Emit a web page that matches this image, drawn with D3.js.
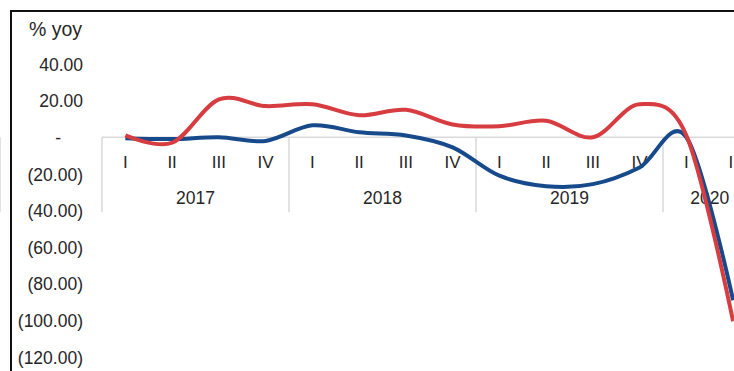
<!DOCTYPE html>
<html>
<head>
<meta charset="utf-8">
<script src="https://cdn.jsdelivr.net/npm/d3@7"></script>
<style>
  body { margin: 0; background: #fff; overflow: hidden; }
  svg { display: block; }
  text { font-family: "Liberation Sans", Arial, sans-serif; fill: #262626; }
</style>
</head>
<body>
<svg id="chart" width="734" height="371"></svg>
<script>
// quarters and years on the category axis
var quarters = ["I","II","III","IV","I","II","III","IV","I","II","III","IV","I","II"];
var years = [
    {label: "2017", n: 4},
    {label: "2018", n: 4},
    {label: "2019", n: 4},
    {label: "2020", n: 2}
];
var yTicks = [40, 20, 0, -20, -40, -60, -80, -100, -120];

// % yoy
var blueValues = [-0.5, -1, 0, -2, 6.5, 2.7, 1, -5.5, -21, -26.7, -25.6, -16.5, 0, -89];
var redValues  = [1, -3, 20.7, 17, 18, 12, 15, 7, 6, 9, 0, 18, 1, -100.5];

var svg = d3.select("#chart");

// outer frame (runs past the right and bottom edge)
svg.append("rect")
    .attr("x", 11).attr("y", 11)
    .attr("width", 900).attr("height", 500)
    .attr("fill", "none")
    .attr("stroke", "#111")
    .attr("stroke-width", 2);

var left = 102,
    step = 46.75;

var xScale = d3.scaleBand()
    .domain(d3.range(quarters.length))
    .range([left, left + step * quarters.length]);

var yScale = d3.scaleLinear()
    .domain([-120, 40])
    .range([357, 64]);

// y labels, no axis line
var fmt = d3.format(".2f");
var yAxis = d3.axisLeft(yScale)
    .tickValues(yTicks)
    .tickSize(0)
    .tickPadding(0)
    .tickFormat(function(d) {
        if (d == 0) return "-";
        return d < 0 ? "(" + fmt(-d) + ")" : fmt(d);
    });

var gy = svg.append("g")
    .attr("transform", "translate(83,0)")
    .call(yAxis);
gy.select(".domain").remove();
gy.selectAll("text")
    .attr("dy", "0.35em")
    .style("font-size", "17.5px")
    .style("font-family", "'Liberation Sans', Arial, sans-serif")
    .attr("fill", "#262626");
// the zero label sits a bit to the left
gy.selectAll(".tick").filter(function(d) { return d == 0; })
    .select("text").attr("x", -22);

svg.append("text")
    .attr("x", 29).attr("y", 36)
    .style("font-size", "19.5px")
    .text("% yoy");

// category axis along zero
var y0 = yScale(0);
svg.append("line")
    .attr("x1", left).attr("x2", 900)
    .attr("y1", y0).attr("y2", y0)
    .attr("stroke", "#d9d9d9")
    .attr("stroke-width", 1.5);

var start = 0;
years.forEach(function(yr) {
    var x0 = xScale(start);
    svg.append("line")
        .attr("x1", x0).attr("x2", x0)
        .attr("y1", y0).attr("y2", y0 + 75)
        .attr("stroke", "#d9d9d9")
        .attr("stroke-width", 1.5);
    svg.append("text")
        .attr("x", x0 + step * yr.n / 2)
        .attr("y", y0 + 67)
        .attr("text-anchor", "middle")
        .style("font-size", "17.5px")
        .text(yr.label);
    start += yr.n;
});
var xEnd = xScale(start);
svg.append("line")
    .attr("x1", xEnd).attr("x2", xEnd)
    .attr("y1", y0).attr("y2", y0 + 75)
    .attr("stroke", "#d9d9d9")
    .attr("stroke-width", 1.5);

svg.selectAll(".qlabel")
    .data(quarters)
    .enter()
    .append("text")
    .attr("class", "qlabel")
    .attr("x", function(d, i) { return xScale(i) + xScale.bandwidth() / 2; })
    .attr("y", y0 + 31)
    .attr("text-anchor", "middle")
    .style("font-size", "17px")
    .text(function(d) { return d; });

// smoothed lines
var line = d3.line()
    .x(function(d, i) { return xScale(i) + xScale.bandwidth() / 2; })
    .y(function(d) { return yScale(d); })
    .curve(d3.curveCardinal.tension(0));

svg.append("path")
    .datum(blueValues)
    .attr("d", line)
    .attr("fill", "none")
    .attr("stroke", "#174a8b")
    .attr("stroke-width", 4);

svg.append("path")
    .datum(redValues)
    .attr("d", line)
    .attr("fill", "none")
    .attr("stroke", "#d63c40")
    .attr("stroke-width", 4);
</script>
</body>
</html>
